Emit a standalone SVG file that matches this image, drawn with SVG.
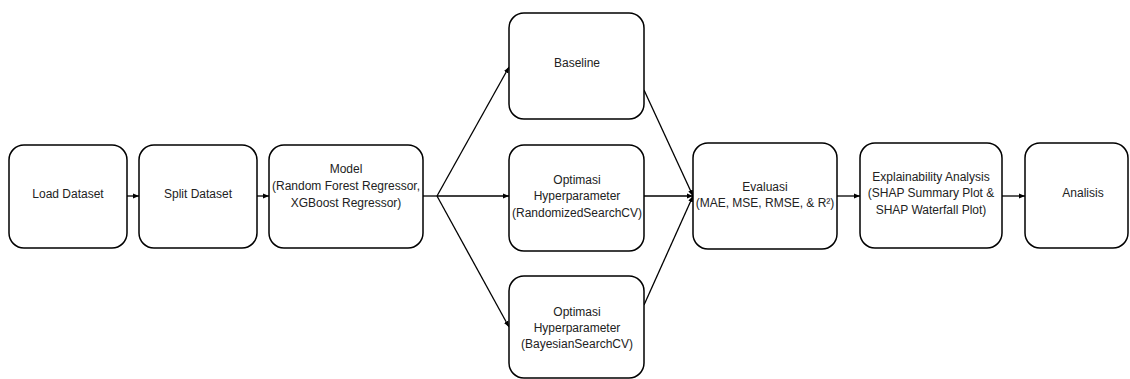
<svg xmlns="http://www.w3.org/2000/svg" width="1130" height="379" viewBox="0 0 1130 379">
<style>
.box{fill:#fff;stroke:#000;stroke-width:1.5}
.t{font-family:"Liberation Sans",Arial,sans-serif;font-size:12px;fill:#222;text-anchor:middle}
.c{fill:none;stroke:#000;stroke-width:1.3}
</style>
<defs>
<marker id="ah" viewBox="0 0 10 10" refX="10" refY="5" markerWidth="6" markerHeight="6" orient="auto" markerUnits="userSpaceOnUse">
<path d="M0,1 L10,5 L0,9 Z" fill="#000"/>
</marker>
</defs>
<rect width="1130" height="379" fill="#fff"/>
<g id="connectors">
<line class="c" x1="127" y1="196" x2="139" y2="196" marker-end="url(#ah)"/>
<line class="c" x1="257" y1="196" x2="269" y2="196" marker-end="url(#ah)"/>
<line class="c" x1="423" y1="196" x2="437" y2="196"/>
<line class="c" x1="437" y1="196" x2="509" y2="67" marker-end="url(#ah)"/>
<line class="c" x1="437" y1="196" x2="509" y2="196" marker-end="url(#ah)"/>
<line class="c" x1="437" y1="196" x2="509" y2="327" marker-end="url(#ah)"/>
<line class="c" x1="644" y1="90" x2="693" y2="196" marker-end="url(#ah)"/>
<line class="c" x1="644" y1="196" x2="693" y2="196" marker-end="url(#ah)"/>
<line class="c" x1="644" y1="305" x2="693" y2="196" marker-end="url(#ah)"/>
<line class="c" x1="837" y1="196" x2="860" y2="196" marker-end="url(#ah)"/>
<line class="c" x1="1002" y1="196" x2="1025" y2="196" marker-end="url(#ah)"/>
</g>
<g id="load">
<rect class="box" x="9" y="145" width="118" height="103" rx="15"/>
<text class="t" x="68" y="198">Load Dataset</text>
</g>
<g id="split">
<rect class="box" x="139" y="145" width="118" height="103" rx="15"/>
<text class="t" x="198" y="198">Split Dataset</text>
</g>
<g id="model">
<rect class="box" x="269" y="145" width="154" height="103" rx="15"/>
<text class="t" x="346" y="173">Model</text>
<text class="t" x="346" y="190">(Random Forest Regressor,</text>
<text class="t" x="346" y="207">XGBoost Regressor)</text>
</g>
<g id="baseline">
<rect class="box" x="509" y="13" width="135" height="106" rx="15"/>
<text class="t" x="577" y="67">Baseline</text>
</g>
<g id="random">
<rect class="box" x="509" y="145" width="135" height="106" rx="15"/>
<text class="t" x="577" y="184">Optimasi</text>
<text class="t" x="577" y="200">Hyperparameter</text>
<text class="t" x="577" y="217">(RandomizedSearchCV)</text>
</g>
<g id="bayes">
<rect class="box" x="509" y="276" width="135" height="102" rx="15"/>
<text class="t" x="577" y="316">Optimasi</text>
<text class="t" x="577" y="332">Hyperparameter</text>
<text class="t" x="577" y="348">(BayesianSearchCV)</text>
</g>
<g id="evaluasi">
<rect class="box" x="693" y="143" width="144" height="106" rx="15"/>
<text class="t" x="765" y="191">Evaluasi</text>
<text class="t" x="765" y="207">(MAE, MSE, RMSE, &amp; R²)</text>
</g>
<g id="explain">
<rect class="box" x="860" y="143" width="142" height="105" rx="15"/>
<text class="t" x="931" y="181">Explainability Analysis</text>
<text class="t" x="931" y="197">(SHAP Summary Plot &amp;</text>
<text class="t" x="931" y="214">SHAP Waterfall Plot)</text>
</g>
<g id="analisis">
<rect class="box" x="1025" y="143" width="103" height="105" rx="15"/>
<text class="t" x="1083" y="197">Analisis</text>
</g>
</svg>
